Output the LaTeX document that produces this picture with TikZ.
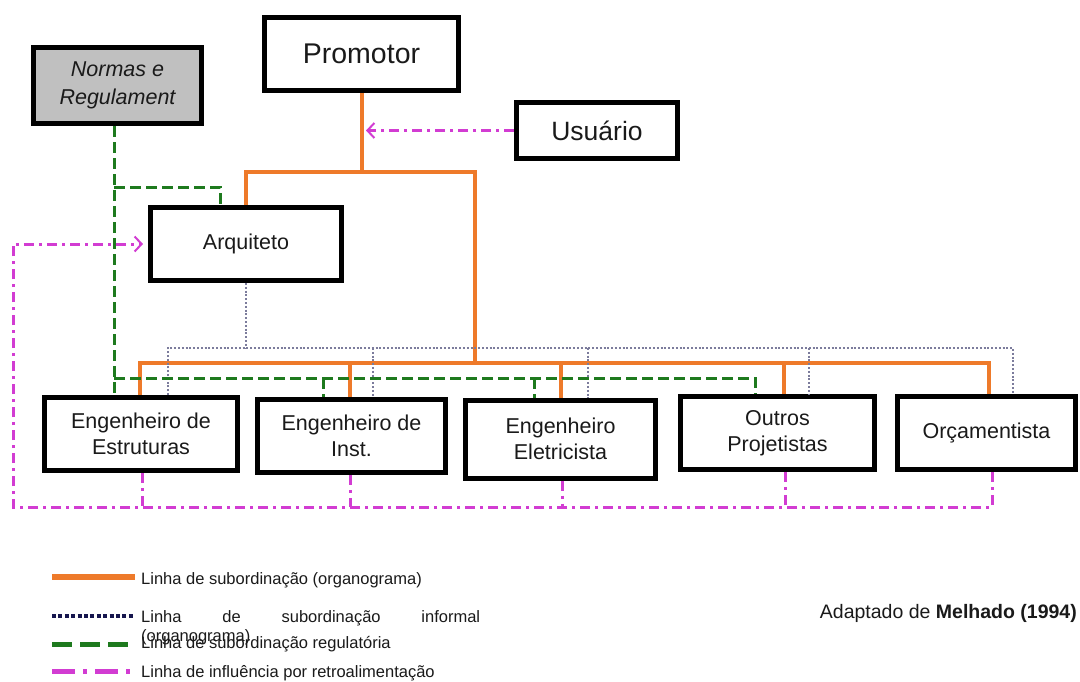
\documentclass[tikz,border=0pt]{standalone}
\usepackage{fontspec}
\setmainfont{Liberation Sans}
\usetikzlibrary{arrows.meta,calc}

\definecolor{orgorange}{HTML}{EE7A2A}
\definecolor{infgray}{HTML}{7C7C9C}
\definecolor{infnavy}{HTML}{16164E}
\definecolor{reggreen}{HTML}{1E7A1E}
\definecolor{fbmagenta}{HTML}{D23CD2}
\definecolor{normfill}{HTML}{C0C0C0}
\definecolor{inkblack}{HTML}{1A1A1A}

\newcommand\boxfont{\fontsize{21.5}{26.5}\selectfont}
\newcommand\legfont{\fontsize{16.5}{19}\selectfont}

\begin{document}
\begin{tikzpicture}[x=1pt,y=-1pt,
  orgbox/.style={draw=black, line width=5pt, fill=white, inner sep=0pt,
    align=center, text=inkblack, font=\boxfont},
  orgline/.style={draw=orgorange, line width=4pt},
  infline/.style={draw=infgray, line width=2.5pt, dash pattern=on 2pt off 1.8pt},
  regline/.style={draw=reggreen, line width=3pt, dash pattern=on 11pt off 5pt},
  fbline/.style={draw=fbmagenta, line width=3pt, dash pattern=on 10pt off 5pt on 3pt off 5pt},
  fbtip/.style={-{Straight Barb[length=7pt,width=15pt,line width=2pt]}},
  legtext/.style={anchor=base west, inner sep=0pt, align=left, text=inkblack, font=\legfont}]

\useasboundingbox (0,0) rectangle (1080,681);
\fill[white] (0,0) rectangle (1080,681);

% ---- boxes ----
\node[orgbox, minimum width=194pt, minimum height=73pt,
      font=\fontsize{28.5}{34}\selectfont] (prom) at (361.5,54) {Promotor};
\node[orgbox, minimum width=161pt, minimum height=56pt,
      font=\fontsize{26.5}{32}\selectfont] (usu) at (597,130.5) {Usuário};
\node[orgbox, fill=normfill, minimum width=168pt, minimum height=76pt,
      font=\fontsize{21.5}{27.5}\selectfont\itshape] (norm) at (117.5,85.5) {Normas e\\Regulament};
\node[orgbox, minimum width=191pt, minimum height=73pt] (arq) at (246,244) {Arquiteto};

\node[orgbox, minimum width=193pt, minimum height=73pt] (est) at (141,434) {Engenheiro de\\Estruturas};
\node[orgbox, minimum width=188pt, minimum height=73pt] (inst) at (351.5,436) {Engenheiro de\\Inst.};
\node[orgbox, minimum width=190pt, minimum height=78pt] (elet) at (560.5,439) {Engenheiro\\Eletricista};
\node[orgbox, minimum width=194pt, minimum height=73pt] (outr) at (777.5,433) {Outros\\Projetistas};
\node[orgbox, minimum width=178pt, minimum height=73pt] (orc) at (986.5,433) {Orçamentista};

% ---- junction points ----
\coordinate (orgtop) at (0,172);
\coordinate (otr) at (475,172);
\coordinate (otb) at (475,363);
\coordinate (o1) at (140,363);
\coordinate (o2) at (350,363);
\coordinate (o3) at (561,363);
\coordinate (o4) at (784,363);
\coordinate (o5) at (989,363);

\coordinate (i1) at (168,348);
\coordinate (i2) at (373,348);
\coordinate (i3) at (588,348);
\coordinate (i4) at (809,348);
\coordinate (i5) at (1013,348);

\coordinate (g0) at (114,187);
\coordinate (ga) at (220,187);
\coordinate (g1) at (114,378);
\coordinate (g2) at (323,378);
\coordinate (g3) at (534,378);
\coordinate (g4) at (755,378);

\coordinate (trunk) at (366,0);
\coordinate (fL) at (13,507);
\coordinate (f1) at (142,507);
\coordinate (f2) at (350,507);
\coordinate (f3) at (562,507);
\coordinate (f4) at (785,507);
\coordinate (f5) at (992,507);

% ---- subordination (orange) ----
\draw[orgline] (prom.south) -- (prom.south |- orgtop);
\draw[orgline] (arq.north) -- (arq.north |- orgtop) -- (otr) -- (otb);
\draw[orgline] (o1 |- est.north) -- (o1) -- (o5) -- (o5 |- orc.north);
\draw[orgline] (o2) -- (o2 |- inst.north);
\draw[orgline] (o3) -- (o3 |- elet.north);
\draw[orgline] (o4) -- (o4 |- outr.north);

% ---- informal subordination (dotted) ----
\draw[infline] (arq.south) -- (arq.south |- i1);
\draw[infline] (i1 |- est.north) -- (i1) -- (i5) -- (i5 |- orc.north);
\draw[infline] (i2) -- (i2 |- inst.north);
\draw[infline] (i3) -- (i3 |- elet.north);
\draw[infline] (i4) -- (i4 |- outr.north);

% ---- regulatory subordination (green dashed) ----
\draw[regline] (g0 |- norm.south) -- (g0 |- est.north);
\draw[regline] (g0) -- (ga) -- (ga |- arq.north);
\draw[regline] (g1) -- (g4) -- (g4 |- outr.north);
\draw[regline] (g2) -- (g2 |- inst.north);
\draw[regline] (g3) -- (g3 |- elet.north);

% ---- feedback influence (magenta dash-dot) ----
\draw[fbline, fbtip] (usu.west) -- (usu.west -| trunk);
\draw[fbline, fbtip, shorten >=5pt]
  (f5 |- orc.south) -- (f5) -- (fL) -- (fL |- arq.west) -- (arq.west);
\draw[fbline] (f1 |- est.south) -- (f1);
\draw[fbline] (f2 |- inst.south) -- (f2);
\draw[fbline] (f3 |- elet.south) -- (f3);
\draw[fbline] (f4 |- outr.south) -- (f4);

% ---- legend ----
\draw[orgorange, line width=6pt] (52,577) -- (135,577);
\draw[infnavy, line width=4pt, dash pattern=on 4pt off 2.4pt] (52,616) -- (135,616);
\draw[reggreen, line width=5pt, dash pattern=on 20pt off 8pt] (52,644) -- (135,644);
\draw[fbmagenta, line width=5pt, dash pattern=on 23pt off 8pt on 4pt off 8pt] (52,671) -- (135,671);

\node[legtext] (leg1) at (141,584) {Linha de subordinação (organograma)};
\node[legtext] (leg2) at (141,641)
  {\makebox[339pt][s]{Linha de subordinação informal}\\(organograma)};
\node[legtext] (leg3) at (141,648) {Linha de subordinação regulatória};
\node[legtext] (leg4) at (141,677) {Linha de influência por retroalimentação};

% ---- source ----
\node[anchor=base east, inner sep=0pt, text=inkblack,
      font=\fontsize{19.5}{23}\selectfont] (src) at (1077,618)
  {Adaptado de \textbf{Melhado (1994)}};
\end{tikzpicture}
\end{document}
